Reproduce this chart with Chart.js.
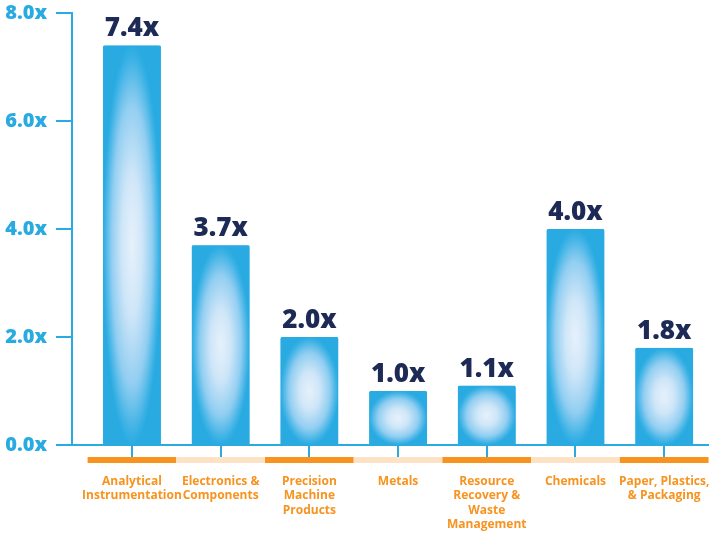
<!DOCTYPE html>
<html>
<head>
<meta charset="utf-8">
<script src="https://cdn.jsdelivr.net/npm/chart.js@4"></script>
<style>
  body { margin: 0; background: #fff; }
  #wrap { width: 709px; height: 533px; }
</style>
</head>
<body>
<div id="wrap"><canvas id="multipleChart" width="709" height="533"></canvas></div>
<script>
// chart values
const categories = [
  ['Analytical', 'Instrumentation'],
  ['Electronics &', 'Components'],
  ['Precision', 'Machine', 'Products'],
  ['Metals'],
  ['Resource', 'Recovery &', 'Waste', 'Management'],
  ['Chemicals'],
  ['Paper, Plastics,', '& Packaging']
];
const multiples = [7.4, 3.7, 2.0, 1.0, 1.1, 4.0, 1.8];
const yTicks = [0, 2, 4, 6, 8];

const BLUE = '#29abe2';
const NAVY = '#1d2a55';
const ORANGE = '#f7931e';
const PEACH = '#fde2c6';
const BAR_W = 58;
const FONT = '"Open Sans", "DejaVu Sans", sans-serif';

// soft white glow in the middle of each bar
function glow(chartCtx, left, top, w, h) {
  const off = document.createElement('canvas');
  off.width = Math.max(1, Math.ceil(w));
  off.height = Math.max(1, Math.ceil(h));
  const g = off.getContext('2d');
  g.translate(w / 2, h / 2);
  g.scale(w / 2, h / 2);
  const grad = g.createRadialGradient(0, 0, 0, 0, 0, 1);
  grad.addColorStop(0, '#e6f1fb');
  grad.addColorStop(0.35, '#cfe6f8');
  grad.addColorStop(0.7, '#92cef1');
  grad.addColorStop(0.93, '#3db2e5');
  grad.addColorStop(1, BLUE);
  g.fillStyle = grad;
  g.fillRect(-1, -1, 2, 2);
  const p = chartCtx.createPattern(off, 'no-repeat');
  p.setTransform(new DOMMatrix().translate(left, top));
  return p;
}

// orange / peach strip under the axis
const bandPlugin = {
  id: 'band',
  afterDraw(chart) {
    const { ctx, scales } = chart;
    const x = scales.x;
    const y0 = chart.chartArea.bottom + 12;
    ctx.save();
    categories.forEach((c, i) => {
      const l = x.getPixelForValue(i - 0.5);
      const r = x.getPixelForValue(i + 0.5);
      ctx.fillStyle = i % 2 === 0 ? ORANGE : PEACH;
      ctx.fillRect(l, y0, r - l, 6);
    });
    ctx.restore();
  }
};

// "7.4x" style labels above bars
const valuePlugin = {
  id: 'values',
  afterDatasetsDraw(chart) {
    const { ctx } = chart;
    const meta = chart.getDatasetMeta(0);
    ctx.save();
    ctx.font = '800 26px ' + FONT;
    ctx.fillStyle = NAVY;
    ctx.textAlign = 'center';
    ctx.textBaseline = 'alphabetic';
    meta.data.forEach((bar, i) => {
      ctx.fillText(multiples[i].toFixed(1) + 'x', bar.x, bar.y - 9);
    });
    ctx.restore();
  }
};

new Chart(document.getElementById('multipleChart'), {
  type: 'bar',
  data: {
    datasets: [{
      data: multiples.map((v, i) => ({ x: i, y: v })),
      barThickness: BAR_W,
      borderRadius: { topLeft: 3, topRight: 3 },
      borderSkipped: 'bottom',
      backgroundColor: (c) => {
        const chart = c.chart;
        if (!chart.chartArea || c.type !== 'data') return BLUE;
        const { x, y } = chart.scales;
        const cx = x.getPixelForValue(c.raw.x);
        const top = y.getPixelForValue(c.raw.y);
        const base = y.getPixelForValue(0);
        return glow(chart.ctx, cx - BAR_W / 2, top, BAR_W, base - top);
      }
    }]
  },
  options: {
    responsive: false,
    animation: false,
    devicePixelRatio: 1,
    layout: { padding: { top: 13, right: 0, left: 0, bottom: 0 } },
    plugins: {
      legend: { display: false },
      tooltip: { enabled: false }
    },
    scales: {
      x: {
        type: 'linear',
        offset: false,
        min: -0.676,
        max: 6.505,
        afterBuildTicks: (s) => { s.ticks = categories.map((c, i) => ({ value: i })); },
        afterFit: (s) => { s.height = 88; s.paddingLeft = 0; s.paddingRight = 0; },
        grid: { offset: false, drawOnChartArea: false, tickLength: 12, color: BLUE, lineWidth: 2 },
        border: { display: true, color: BLUE, width: 2 },
        ticks: {
          autoSkip: false,
          maxRotation: 0,
          padding: 18,
          color: ORANGE,
          font: { family: FONT, size: 12, weight: '700', lineHeight: 1.17 },
          callback: (v) => categories[v]
        }
      },
      y: {
        min: 0,
        max: 8,
        afterBuildTicks: (s) => { s.ticks = yTicks.map(v => ({ value: v })); },
        afterFit: (s) => { s.width = 72; s.paddingTop = 0; s.paddingBottom = 0; },
        grid: { drawOnChartArea: false, tickLength: 16, color: BLUE, lineWidth: 2 },
        border: { display: true, color: BLUE, width: 2 },
        ticks: {
          padding: 9,
          color: BLUE,
          font: { family: FONT, size: 20, weight: '800' },
          callback: (v) => v.toFixed(1) + 'x'
        }
      }
    }
  },
  plugins: [bandPlugin, valuePlugin]
});
</script>
</body>
</html>
